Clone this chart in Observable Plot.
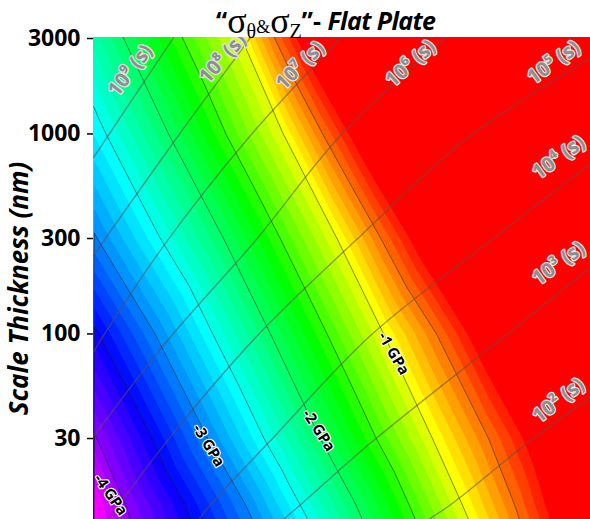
<!DOCTYPE html>
<html><head><meta charset="utf-8">
<script src="https://cdn.jsdelivr.net/npm/d3@7"></script>
<script src="https://cdn.jsdelivr.net/npm/@observablehq/plot@0.6"></script>
<style>
html,body{margin:0;padding:0;background:#fff;overflow:hidden;width:590px;height:519px;}
#chart{position:absolute;left:0;top:0;}
#title{position:absolute;z-index:2;left:216px;top:0px;white-space:nowrap;font-family:"Open Sans",sans-serif;font-weight:bold;font-size:25px;color:#000;}
#title .up{vertical-align:3px;}
#title .ser{font-family:"Liberation Serif",serif;font-weight:normal;font-size:36px;}
#title .ser sub{font-size:20px;vertical-align:-5px;}
#title .amp{font-family:"Liberation Serif",serif;font-weight:normal;font-size:18px;}
#title i{letter-spacing:-0.6px;}
</style></head><body>
<div id="chart"></div>
<div id="title"><span class="up">“</span><span class="ser">σ<sub>θ</sub></span><span class="amp">&amp;</span><span class="ser">σ<sub>Z</sub></span><span class="up">”-&nbsp;<i>Flat Plate</i></span></div>
<script>
// ---- stress field samples (rows of constant thickness) ----
const rowThickness = [3100, 1000, 300, 100, 30, 14, 11];           // nm
const rowTemp = [                                                   // x position (arbitrary temperature units)
  [300, 329, 448, 481, 518, 800],
  [300, 375.5, 491, 530.4, 574, 800],
  [300, 430.8, 545, 589, 637, 800],
  [300, 362, 478, 592, 645, 697, 800],
  [300, 415, 528, 641, 697.4, 755, 800],
  [300, 332, 453, 564, 671, 723.5, 775, 800],
  [300, 339, 463, 573, 680, 730.6, 780, 800]
];
const rowStress = [                                                 // GPa
  [-2.25, -2, -1, -0.5, 0, 1],
  [-2.6, -2, -1, -0.5, 0, 1],
  [-3.03, -2, -1, -0.5, 0, 1],
  [-3.55, -3, -2, -1, -0.5, 0, 1],
  [-4.03, -3, -2, -1, -0.5, 0, 0.6],
  [-4.45, -4, -3, -2, -1, -0.5, 0, 0.3],
  [-4.5, -4, -3, -2, -1, -0.5, 0, 0.2]
];
const colorStops = [-4.45, -3.55, -2.6, -1.7, -1.0, -0.2];
const colorRange = ["#ff00ff", "#0000ff", "#00ffff", "#00ff00", "#ffff00", "#ff0000"];

// ---- iso-time lines ----
const timeExp = [9, 8, 7, 6, 5, 4, 3, 2];
const timeLineTemp = [
  [300, 392],
  [300, 385.5, 457.9, 470],
  [300, 310, 374.4, 457.9, 548.5, 563.6],
  [300, 374.4, 463, 548.5, 654.1, 674.2],
  [307, 374.4, 465, 563.6, 679.3, 800],
  [397.6, 417.7, 478.1, 578.7, 699.4, 800],
  [478.1, 508.3, 581.7, 714.5, 800],
  [618.9, 659.2, 739.6, 800]
];
const timeLineThick = [
  [762, 3690],
  [247, 982, 3035, 3691],
  [81, 98, 293, 982, 3035, 3691],
  [30.7, 92.7, 293, 982, 3035, 3691],
  [10.4, 29.3, 98.2, 293, 982, 2383],
  [10.4, 14.0, 29.3, 98.2, 293, 711],
  [10.4, 14.0, 29.3, 98.2, 215],
  [10.4, 14.0, 29.3, 48.1]
];
const timeLabel = ["10⁹ (s)", "10⁸ (s)", "10⁷ (s)", "10⁶ (s)", "10⁵ (s)", "10⁴ (s)", "10³ (s)", "10² (s)"];
const timeLabelTemp = [337, 430, 508, 619, 763, 768, 768, 768];
const timeLabelThick = [2075, 2383, 2198, 2250, 2276, 762, 225, 46.5];
const timeLabelAngle = [-52, -48, -45, -42, -36, -36, -36, -38];

// ---- stress labels ----
const gpaLabel = ["-1 GPa", "-2 GPa", "-3 GPa", "-4 GPa"];
const gpaTemp = [601.8, 526.4, 415.7, 317.1];
const gpaThick = [79.8, 32.9, 27.7, 15.7];
const gpaAngle = [60, 57, 59, 55];

const yTicks = [3000, 1000, 300, 100, 30];
const bandLevels = d3.range(-47, 1).map(i => i / 10);
const lineLevels = [-4.5, -4, -3.5, -3, -2.5, -2, -1.5, -1, -0.5];

// tables
const samples = rowThickness.flatMap((h, i) => rowTemp[i].map((T, j) => ({T, h, v: rowStress[i][j]})));
const timeRows = timeExp.flatMap((e, i) => timeLineTemp[i].map((T, j) => ({e, T, h: timeLineThick[i][j]})));
const timeLabels = timeLabel.map((t, i) => ({t, T: timeLabelTemp[i], h: timeLabelThick[i], a: timeLabelAngle[i]}));
const gpaLabels = gpaLabel.map((t, i) => ({t, T: gpaTemp[i], h: gpaThick[i], a: gpaAngle[i]}));

const bounds = {x1: 298, x2: 802, y1: 11, y2: 3100};

const chart = Plot.plot({
  width: 590, height: 519,
  marginTop: 37, marginBottom: 0, marginLeft: 93, marginRight: 0,
  x: {domain: [300, 800], axis: null},
  y: {type: "log", domain: [11.81, 3035], axis: null},
  color: {type: "linear", domain: colorStops, range: colorRange, clamp: true},
  style: {fontFamily: "Open Sans", background: "white"},
  marks: [
    Plot.contour(samples, {x: "T", y: "h", fill: "v", thresholds: bandLevels, interpolate: "barycentric", blur: 0, ...bounds, clip: true}),
    Plot.contour(samples, {x: "T", y: "h", value: "v", thresholds: lineLevels, interpolate: "barycentric", blur: 0, fill: "none", stroke: "#102010", strokeOpacity: 0.6, strokeWidth: 0.9, ...bounds, clip: true}),
    Plot.line(timeRows, {x: "T", y: "h", z: "e", stroke: "#5f4f4f", strokeOpacity: 0.55, strokeWidth: 1.4, curve: "catmull-rom", clip: true}),
    Plot.text(timeLabels, {x: "T", y: "h", text: "t", rotate: "a", fontSize: 20, fontWeight: "bold", fill: "#8e8e8e", stroke: "#e4e4e4", strokeWidth: 2.5, paintOrder: "stroke", clip: true}),
    Plot.text(gpaLabels, {x: "T", y: "h", text: "t", rotate: "a", fontSize: 15, fontWeight: "bold", fill: "#000", stroke: "#fff", strokeWidth: 2.2, paintOrder: "stroke", clip: true}),
    Plot.axisY(yTicks, {tickFormat: d => String(d), fontSize: 23, fontWeight: "bold", tickSize: 6, tickPadding: 7, strokeWidth: 1.5, label: null}),
    Plot.text(["Scale Thickness (nm)"], {text: d => d, frameAnchor: "left", textAnchor: "middle", rotate: -90, dx: -74, dy: 10, fontSize: 26, fontWeight: "bold", fontStyle: "italic", fill: "#000"})
  ]
});
document.getElementById("chart").appendChild(chart);
</script>
</body></html>
